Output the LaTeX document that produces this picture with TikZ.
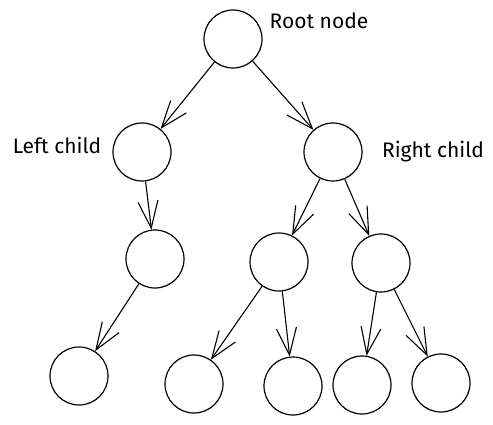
\documentclass[tikz,border=0pt]{standalone}
\usepackage{fontspec}
\setmainfont{Fira Sans}
\usetikzlibrary{arrows.meta,positioning}

\begin{document}
\begin{tikzpicture}[x=1pt, y=-1pt,
	vert/.style={circle, draw, line width=1.2pt, minimum size=58pt, inner sep=0pt},
	edge/.style={-{Straight Barb[length=27pt, width=20pt, line width=1.1pt]}, line width=1.1pt},
	lbl/.style={font=\fontsize{21}{23}\selectfont}]
	\useasboundingbox (0,0) rectangle (493,425);

	\node (root) [vert] at (233,39) {};
	\node [lbl] at (319,21) {Root node};

	\node (l) [vert] at (142,152) {};
	\node [lbl] at (57,145) {Left child};
	\node (r) [vert] at (333,152) {};
	\node [lbl] at (433,152) {Right child};

	\node (ll) [vert] at (155,259) {};
	\node (rl) [vert] at (279,262) {};
	\node (rr) [vert] at (381,263) {};

	\node (lll) [vert] at (79,376) {};
	\node (rll) [vert] at (194,384) {};
	\node (rlr) [vert] at (293,386) {};
	\node (rrl) [vert] at (362,385) {};
	\node (rrr) [vert] at (441,383) {};

	\draw [edge] (root) -- (l);
	\draw [edge] (root) -- (r);
	\draw [edge] (l) -- (ll);
	\draw [edge] (r) -- (rl);
	\draw [edge] (r) -- (rr);
	\draw [edge] (ll) -- (lll);
	\draw [edge] (rl) -- (rll);
	\draw [edge] (rl) -- (rlr);
	\draw [edge] (rr) -- (rrl);
	\draw [edge] (rr) -- (rrr);
\end{tikzpicture}
\end{document}
